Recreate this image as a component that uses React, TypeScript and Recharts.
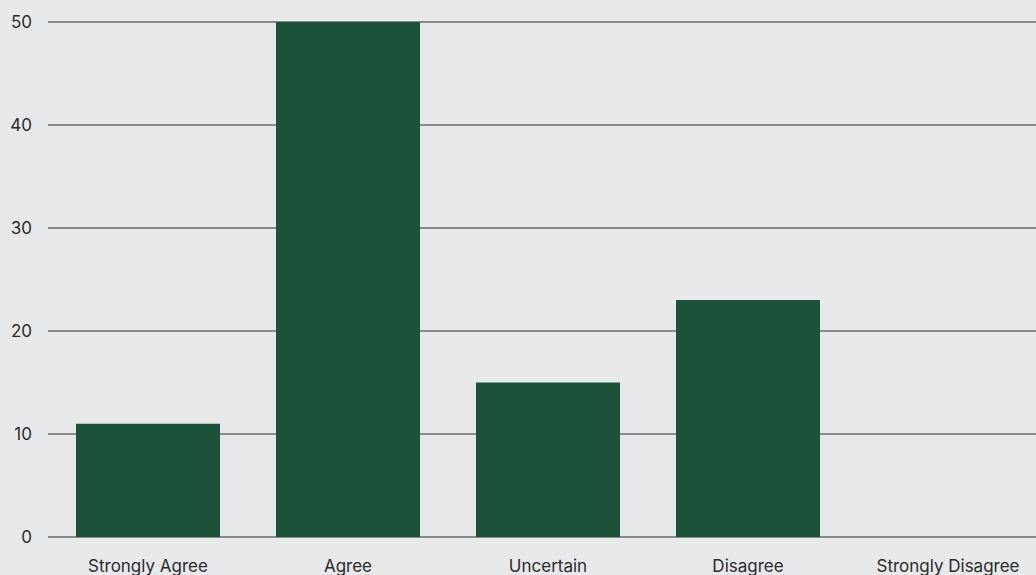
import React from 'react';
import { BarChart, Bar, XAxis, YAxis, CartesianGrid } from 'recharts';

const categories = ['Strongly Agree', 'Agree', 'Uncertain', 'Disagree', 'Strongly Disagree'];
const responses = [11, 50, 15, 23, 0];
const yTicks = [0, 10, 20, 30, 40, 50];

const chartData = categories.map((name, i) => ({ name, value: responses[i] }));

const BG = '#e8e9eb';
const BAR = '#1c5239';
const TEXT = '#2b2b2b';

export default function App() {
  return (
    <div
      style={{
        position: 'absolute',
        left: 0,
        top: 0,
        width: 1036,
        height: 575,
        overflow: 'hidden',
        background: BG,
        fontFamily: 'Inter, "Noto Sans", sans-serif',
      }}
    >
      <BarChart
        width={1056}
        height={575}
        data={chartData}
        margin={{ top: 22, right: 8, left: 0, bottom: 0 }}
        barCategoryGap="14%"
      >
        <CartesianGrid horizontal vertical={false} stroke="#2a2a2a" strokeWidth={1} />
        <XAxis
          dataKey="name"
          axisLine={false}
          tickLine={false}
          tickSize={0}
          tickMargin={23}
          height={38}
          interval={0}
          tick={{ fill: TEXT, fontSize: 17 }}
        />
        <YAxis
          domain={[0, 50]}
          ticks={yTicks}
          axisLine={false}
          tickLine={false}
          tickSize={0}
          tickMargin={16}
          width={48}
          tick={{ fill: TEXT, fontSize: 17 }}
        />
        <Bar dataKey="value" fill={BAR} isAnimationActive={false} />
      </BarChart>
    </div>
  );
}
